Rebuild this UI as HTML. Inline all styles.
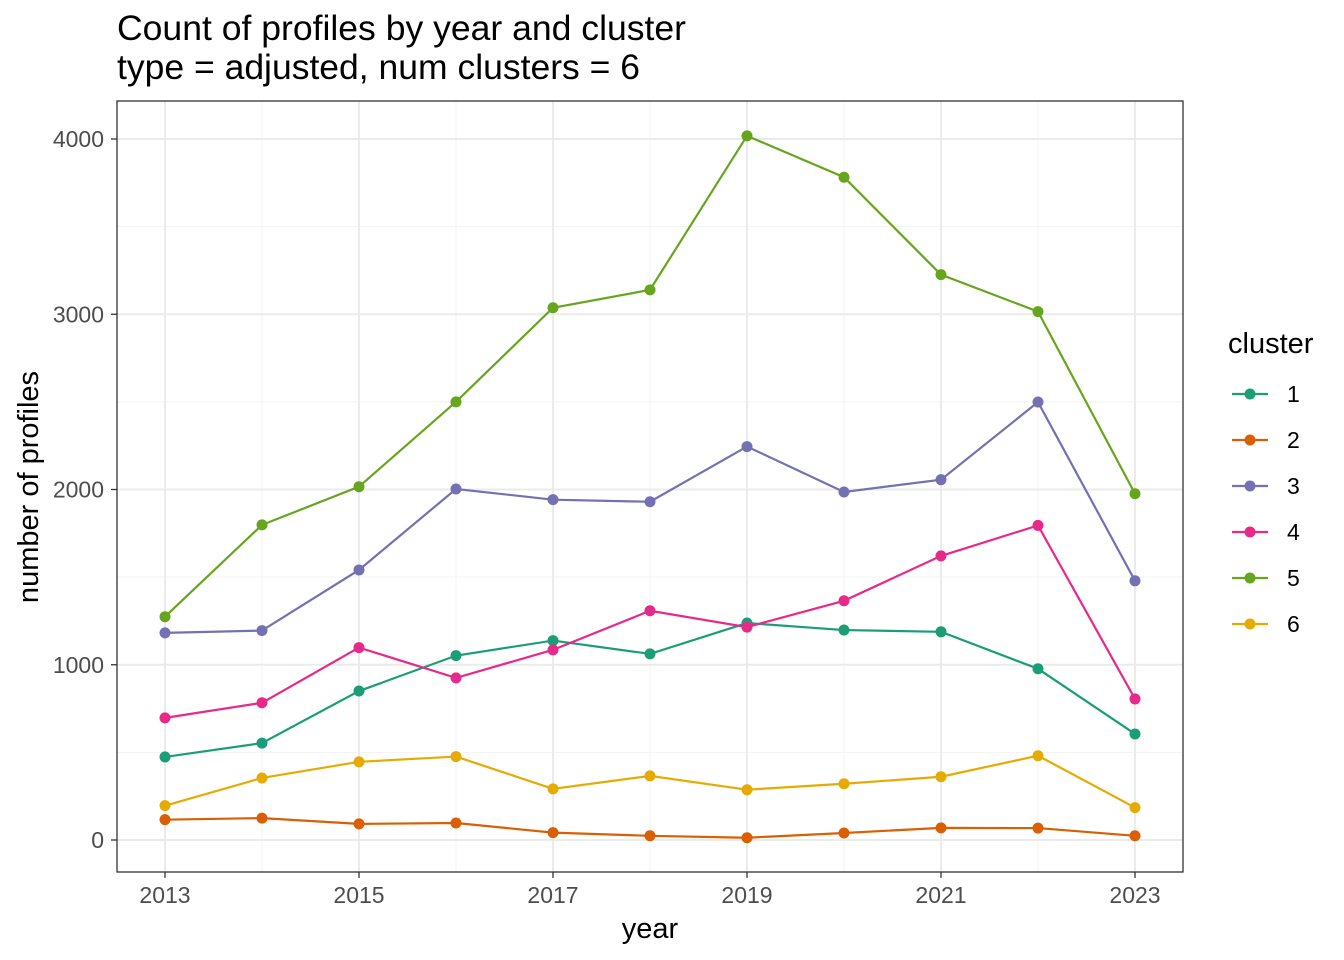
<!DOCTYPE html>
<html><head><meta charset="utf-8"><style>
body{margin:0;background:#fff}
svg{display:block;font-family:"Liberation Sans",sans-serif}
</style></head><body>
<svg id="c" width="1344" height="960" viewBox="0 0 1344 960">
<rect width="1344" height="960" fill="#fff"/>
<text x="117" y="40" font-size="35" textLength="569" lengthAdjust="spacingAndGlyphs" fill="#000">Count of profiles by year and cluster</text>
<text x="117" y="79" font-size="35" textLength="523" lengthAdjust="spacingAndGlyphs" fill="#000">type = adjusted, num clusters = 6</text>
<g id="grid"></g>
<g id="series"></g>
<rect x="117" y="101" width="1066" height="771" fill="none" stroke="#333" stroke-width="1.3"/>
<g id="axes"></g>
<text x="650" y="938" font-size="29" text-anchor="middle">year</text>
<text transform="translate(38,487) rotate(-90)" font-size="29" text-anchor="middle">number of profiles</text>
<text x="1228" y="353" font-size="29">cluster</text>
<g id="legend"></g>
</svg>
<script>
const years=[2013,2014,2015,2016,2017,2018,2019,2020,2021,2022,2023];
const clusters=["1","2","3","4","5","6"];
const colors=["#1b9e77","#d95f02","#7570b3","#e7298a","#66a61e","#e6ab02"];
const c1=[474,553,850,1052,1138,1062,1238,1198,1188,977,605];
const c2=[116,125,92,97,42,24,13,40,69,68,24];
const c3=[1182,1195,1541,2003,1942,1930,2245,1986,2056,2499,1479];
const c4=[697,783,1098,925,1085,1308,1215,1365,1621,1795,805];
const c5=[1274,1798,2016,2500,3037,3139,4018,3782,3226,3015,1976];
const c6=[196,354,446,476,292,366,287,321,361,481,185];
const yTicks=[0,1000,2000,3000,4000];
const xTicks=[2013,2015,2017,2019,2021,2023];
const all=[c1,c2,c3,c4,c5,c6];
const X=y=>165+(y-2013)*97;
const Y=v=>840-v*0.17525;
const ns="http://www.w3.org/2000/svg";
function mk(t,a,p){const e=document.createElementNS(ns,t);for(const k in a)e.setAttribute(k,a[k]);p.appendChild(e);return e;}
const g=document.getElementById('grid'),ax=document.getElementById('axes'),s=document.getElementById('series'),lg=document.getElementById('legend');
for(let v=500;v<=4500;v+=1000){if(Y(v)<101)continue;const l=mk('line',{x1:117,x2:1183,y1:Y(v),y2:Y(v),stroke:'#f3f3f3','stroke-width':1},g);

}
for(let yr=2014;yr<=2022;yr+=2){const l=mk('line',{x1:X(yr),x2:X(yr),y1:101,y2:872,stroke:'#f3f3f3','stroke-width':1},g);

}
yTicks.forEach(v=>{const l=mk('line',{x1:117,x2:1183,y1:Y(v),y2:Y(v),stroke:'#ebebeb','stroke-width':2},g);


const tk=mk('line',{x1:111,x2:117,y1:Y(v),y2:Y(v),stroke:'#333','stroke-width':1.3},ax);


const t=mk('text',{x:104,y:Y(v)+8,'font-size':23,fill:'#4d4d4d','text-anchor':'end'},ax);t.textContent=v;

});
xTicks.forEach(yr=>{const l=mk('line',{x1:X(yr),x2:X(yr),y1:101,y2:872,stroke:'#ebebeb','stroke-width':2},g);


const tk=mk('line',{x1:X(yr),x2:X(yr),y1:872,y2:878,stroke:'#333','stroke-width':1.3},ax);


const t=mk('text',{x:X(yr),y:903,'font-size':23,fill:'#4d4d4d','text-anchor':'middle'},ax);t.textContent=yr;

});
all.forEach((d,i)=>{const pl=mk('polyline',{points:d.map((v,j)=>X(years[j])+','+Y(v)).join(' '),fill:'none',stroke:colors[i],'stroke-width':2.2},s);


d.forEach((v,j)=>{const c=mk('circle',{cx:X(years[j]),cy:Y(v),r:5.5,fill:colors[i]},s);

});
const yy=394+i*46;
const e=mk('g',{},lg);


mk('line',{x1:1232,x2:1268,y1:yy,y2:yy,stroke:colors[i],'stroke-width':2.2},e);
mk('circle',{cx:1250,cy:yy,r:5.5,fill:colors[i]},e);
const t=mk('text',{x:1287,y:yy+8,'font-size':23,fill:'#000'},e);t.textContent=clusters[i];});
</script>
</body></html>
